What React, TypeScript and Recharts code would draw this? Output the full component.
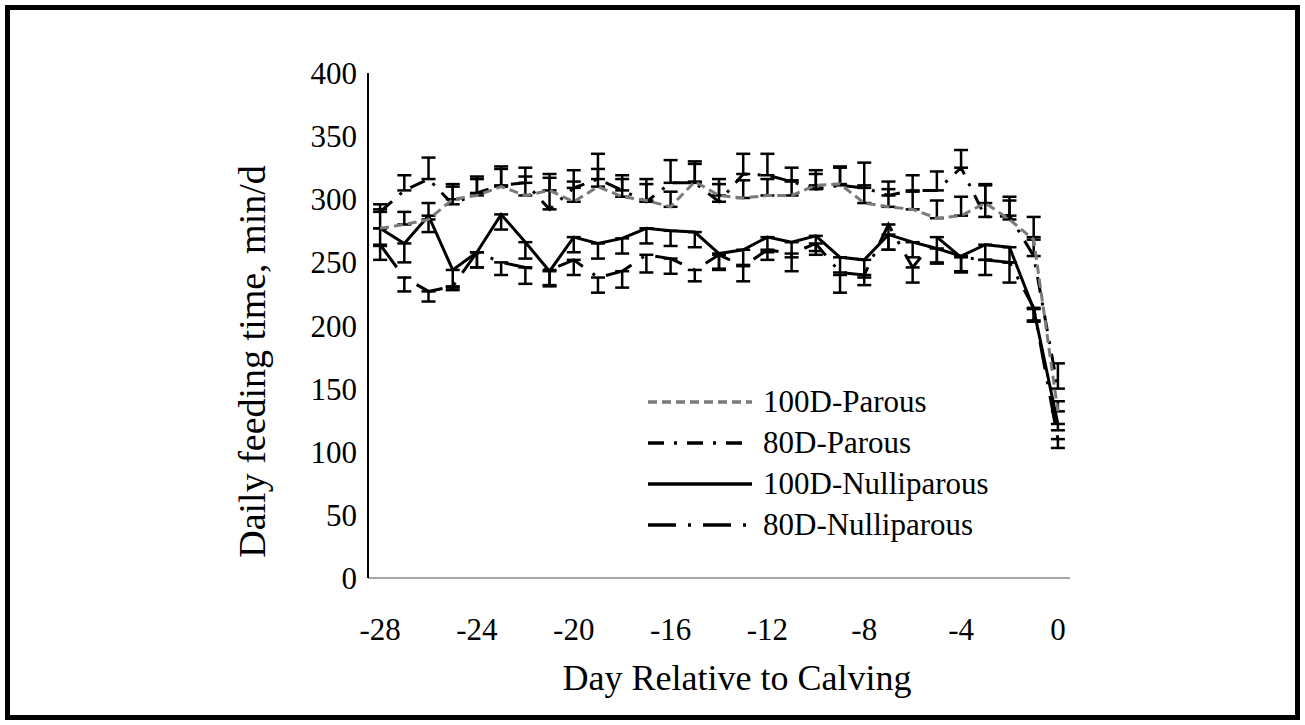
import { LineChart, Line, XAxis, YAxis, ErrorBar, Legend, Label } from 'recharts'

const days = [-28, -27, -26, -25, -24, -23, -22, -21, -20, -19, -18, -17, -16, -15, -14, -13, -12, -11, -10, -9, -8, -7, -6, -5, -4, -3, -2, -1, 0]

// 100D-Parous (plus error bars)
const parous100 = [277, 280, 284, 300, 303, 310, 303, 307, 298, 310, 302, 299, 294, 314, 303, 301, 303, 303, 311, 312, 297, 294, 292, 285, 287, 297, 284, 268, 132]
const parous100Err = [15, 10, 13, 12, 13, 14, 15, 13, 16, 14, 14, 13, 12, 14, 13, 14, 13, 12, 12, 13, 14, 14, 14, 14, 15, 15, 15, 18, 8]

// 80D-Parous (plus error bars)
const parous80 = [290, 307, 316, 296, 305, 311, 313, 292, 309, 316, 307, 298, 313, 313, 298, 320, 319, 314, 308, 311, 309, 303, 307, 307, 325, 286, 287, 255, 150]
const parous80Err = [6, 12, 17, 14, 13, 15, 12, 25, 14, 20, 12, 18, 18, 17, 14, 16, 17, 11, 12, 15, 20, 11, 12, 15, 14, 25, 15, 15, 20]

// 100D-Nulliparous (minus error bars)
const nulli100 = [277, 265, 287, 244, 258, 288, 266, 243, 270, 265, 269, 277, 275, 274, 257, 260, 270, 266, 271, 254, 252, 272, 266, 261, 255, 264, 262, 213, 122]
const nulli100Err = [14, 15, 13, 14, 12, 12, 13, 12, 12, 12, 12, 12, 12, 12, 12, 12, 12, 12, 12, 14, 14, 12, 12, 12, 12, 12, 12, 10, 5]

// 80D-Nulliparous (minus error bars)
const nulli80 = [264, 238, 227, 231, 258, 250, 246, 244, 252, 238, 243, 256, 253, 244, 256, 247, 260, 257, 265, 242, 240, 280, 246, 270, 254, 252, 250, 214, 110]
const nulli80Err = [12, 11, 8, 3, 12, 10, 13, 12, 12, 12, 13, 14, 12, 9, 12, 12, 8, 14, 9, 16, 8, 20, 12, 20, 12, 12, 16, 10, 7]

const xTicks = [-28, -24, -20, -16, -12, -8, -4, 0]
const yTicks = [0, 50, 100, 150, 200, 250, 300, 350, 400]

const data = days.map((day, i) => ({
  day,
  p100: parous100[i],
  p100Err: [0, parous100Err[i]],
  p80: parous80[i],
  p80Err: [0, parous80Err[i]],
  n100: nulli100[i],
  n100Err: [nulli100Err[i], 0],
  n80: nulli80[i],
  n80Err: [nulli80Err[i], 0],
}))

const font = '"Liberation Serif", "Times New Roman", serif'

const series = [
  { key: 'p100', name: '100D-Parous', color: '#7a7a7a', dash: '9 5' },
  { key: 'p80', name: '80D-Parous', color: '#000', dash: '16 10 3 10' },
  { key: 'n100', name: '100D-Nulliparous', color: '#000', dash: undefined },
  { key: 'n80', name: '80D-Nulliparous', color: '#000', dash: '28 12 3 12' },
]

// error bars are one-sided: hide the cap that sits on the data point
const css = `
.err-plus .recharts-errorBar line:nth-of-type(3) { display: none; }
.err-minus .recharts-errorBar line:nth-of-type(1) { display: none; }
`

const renderLegend = () => (
  <div style={{ fontFamily: font, fontSize: 31, color: '#000' }}>
    {series.map((s) => (
      <div key={s.key} style={{ display: 'flex', alignItems: 'center', height: 41 }}>
        <svg width={104} height={8}>
          <line x1={0} y1={4} x2={104} y2={4} stroke={s.color} strokeWidth={3.5} strokeDasharray={s.dash} />
        </svg>
        <span style={{ marginLeft: 11, lineHeight: '41px' }}>{s.name}</span>
      </div>
    ))}
  </div>
)

const YTitle = ({ viewBox }: any) => {
  const cx = viewBox.x + viewBox.width / 2
  const cy = viewBox.y + viewBox.height / 2 + 36
  return (
    <text x={cx} y={cy} transform={`rotate(-90 ${cx} ${cy})`} textAnchor="middle" dominantBaseline="central"
      fontFamily={font} fontSize={38} fill="#000">
      Daily feeding time, min/d
    </text>
  )
}

export default function App() {
  return (
    <div style={{ position: 'absolute', left: 0, top: 0, width: 1305, height: 725, background: '#fff' }}>
      <style>{css}</style>
      <div style={{ position: 'absolute', left: 5, top: 5, width: 1295, height: 715, border: '5px solid #000', boxSizing: 'border-box' }} />
      <div style={{ position: 'absolute', left: 0, top: 0 }}>
        <LineChart width={1305} height={725} data={data} margin={{ top: 73, right: 235, bottom: 0, left: 136 }}>
          <XAxis
            type="number"
            dataKey="day"
            domain={[-28.5, 0.5]}
            ticks={xTicks}
            allowDataOverflow
            height={147}
            stroke="#a6a6a6"
            strokeWidth={2}
            tickLine={false}
            tickSize={0}
            tickMargin={40}
            tick={{ fill: '#000', fontSize: 31, fontFamily: font }}
          >
            <Label value="Day Relative to Calving" position="insideTop" offset={86} dx={18} fill="#000" fontSize={36} fontFamily={font} />
          </XAxis>
          <YAxis
            type="number"
            domain={[0, 400]}
            ticks={yTicks}
            width={232}
            stroke="#000"
            strokeWidth={2}
            tickLine={false}
            tickSize={0}
            tickMargin={11}
            tick={{ fill: '#000', fontSize: 31, fontFamily: font }}
          >
            <Label content={YTitle} />
          </YAxis>
          <Legend
            layout="vertical"
            align="center"
            verticalAlign="middle"
            content={renderLegend}
            wrapperStyle={{ position: 'absolute', left: 648, top: 381, width: 420 }}
          />
          <Line className="err-minus" dataKey="n100" name="100D-Nulliparous" stroke="#000" strokeWidth={3} dot={false} isAnimationActive={false} legendType="none">
            <ErrorBar dataKey="n100Err" direction="y" width={7} strokeWidth={2.5} stroke="#000" isAnimationActive={false} />
          </Line>
          <Line className="err-minus" dataKey="n80" name="80D-Nulliparous" stroke="#000" strokeWidth={3} strokeDasharray="28 12 3 12" dot={false} isAnimationActive={false} legendType="none">
            <ErrorBar dataKey="n80Err" direction="y" width={7} strokeWidth={2.5} stroke="#000" isAnimationActive={false} />
          </Line>
          <Line className="err-plus" dataKey="p80" name="80D-Parous" stroke="#000" strokeWidth={3} strokeDasharray="16 10 3 10" dot={false} isAnimationActive={false} legendType="none">
            <ErrorBar dataKey="p80Err" direction="y" width={7} strokeWidth={2.5} stroke="#000" isAnimationActive={false} />
          </Line>
          <Line className="err-plus" dataKey="p100" name="100D-Parous" stroke="#7a7a7a" strokeWidth={3} strokeDasharray="9 5" dot={false} isAnimationActive={false} legendType="none">
            <ErrorBar dataKey="p100Err" direction="y" width={7} strokeWidth={2.5} stroke="#000" isAnimationActive={false} />
          </Line>
        </LineChart>
      </div>
    </div>
  )
}
